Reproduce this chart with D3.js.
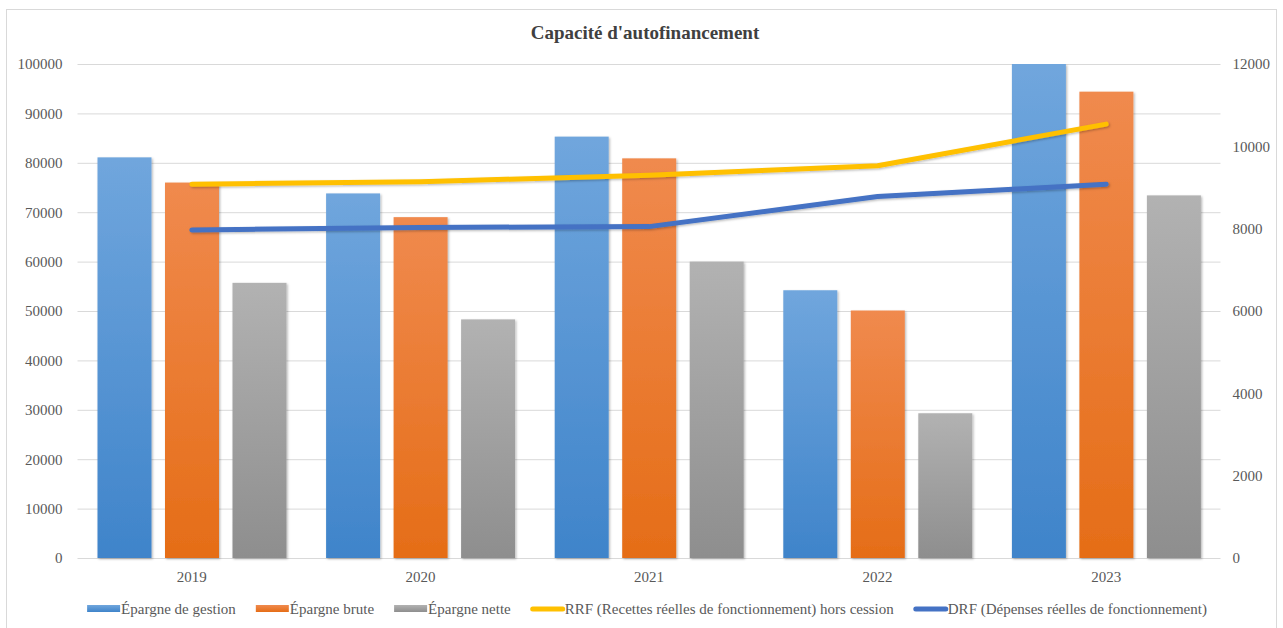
<!DOCTYPE html>
<html lang="fr">
    <head>
        <meta charset="utf-8">
        <title>Capacité d'autofinancement</title>
        <script src="https://cdn.jsdelivr.net/npm/d3@7"></script>
        <style>
            body { margin: 0; background: #fff; }
            svg { display: block; font-family: "Liberation Serif", "Times New Roman", serif; }
            .axis text { fill: #595959; font-size: 15px; font-family: "Liberation Serif", "Times New Roman", serif; }
            .axis .domain { display: none; }
            .grid line { stroke: #d9d9d9; stroke-width: 1; }
            .grid .domain { display: none; }
        </style>
    </head>
    <body>
        <div class="chart"></div>
        <script type="text/javascript">
            // values
            const years = ['2019', '2020', '2021', '2022', '2023'];
            const epargneGestion = [81100, 73800, 85300, 54200, 100000];
            const epargneBrute = [76000, 69000, 80900, 50100, 94400];
            const epargneNette = [55700, 48300, 60000, 29300, 73400];
            const rrf = [9080, 9140, 9300, 9530, 10540];
            const drf = [7970, 8030, 8050, 8780, 9080];
            const leftTicks = [0, 10000, 20000, 30000, 40000, 50000, 60000, 70000, 80000, 90000, 100000];
            const rightTicks = [0, 2000, 4000, 6000, 8000, 10000, 12000];

            const barSeries = [
                {name: 'Épargne de gestion', values: epargneGestion, top: '#70a6dd', bottom: '#3f84ca'},
                {name: 'Épargne brute', values: epargneBrute, top: '#f08a4e', bottom: '#e56d17'},
                {name: 'Épargne nette', values: epargneNette, top: '#b2b2b2', bottom: '#8e8e8e'}
            ];
            const lineSeries = [
                {name: 'RRF (Recettes réelles de fonctionnement) hors cession', values: rrf, color: '#ffc000'},
                {name: 'DRF (Dépenses réelles de fonctionnement)', values: drf, color: '#4472c4'}
            ];

            const width = 1283;
            const height = 628;
            const plot = {left: 77.5, right: 1220.5, top: 64, bottom: 558};

            const svg = d3.select('.chart')
                .append('svg')
                .attr('width', width)
                .attr('height', height);

            const defs = svg.append('defs');
            barSeries.forEach((s, i) => {
                const g = defs.append('linearGradient')
                    .attr('id', 'grad' + i)
                    .attr('x1', 0).attr('y1', 0)
                    .attr('x2', 0).attr('y2', 1);
                g.append('stop').attr('offset', '0%').attr('stop-color', s.top);
                g.append('stop').attr('offset', '100%').attr('stop-color', s.bottom);
            });
            const shadow = defs.append('filter')
                .attr('id', 'shadow')
                .attr('x', '-20%').attr('y', '-20%')
                .attr('width', '140%').attr('height', '140%');
            shadow.append('feDropShadow')
                .attr('dx', 1.2).attr('dy', 1.2)
                .attr('stdDeviation', 1.3)
                .attr('flood-color', '#000')
                .attr('flood-opacity', 0.28);
            defs.append('clipPath')
                .attr('id', 'plotclip')
                .append('rect')
                .attr('x', plot.left)
                .attr('y', plot.top)
                .attr('width', plot.right - plot.left)
                .attr('height', plot.bottom - plot.top + 4);

            // outer frame
            svg.append('rect')
                .attr('x', 6.5)
                .attr('y', 9.5)
                .attr('width', 1270)
                .attr('height', 640)
                .attr('fill', 'none')
                .attr('stroke', '#d9d9d9');

            svg.append('text')
                .attr('x', 645)
                .attr('y', 39)
                .attr('text-anchor', 'middle')
                .attr('font-size', '19px')
                .attr('font-weight', 'bold')
                .attr('fill', '#404040')
                .text("Capacité d'autofinancement");

            const x0 = d3.scaleBand()
                .domain(years)
                .range([plot.left, plot.right]);
            const x1 = d3.scaleBand()
                .domain(barSeries.map(s => s.name))
                .range([20, 209])
                .paddingInner(0.2);
            const yLeft = d3.scaleLinear()
                .domain([0, 100000])
                .range([plot.bottom, plot.top]);
            const yRight = d3.scaleLinear()
                .domain([0, 12000])
                .range([plot.bottom, plot.top]);

            svg.append('g')
                .attr('class', 'grid')
                .attr('transform', `translate(${plot.left},0)`)
                .call(d3.axisLeft(yLeft).tickValues(leftTicks).tickSize(-(plot.right - plot.left)).tickFormat(''));

            svg.append('g')
                .attr('class', 'axis')
                .attr('transform', `translate(${plot.left},0)`)
                .call(d3.axisLeft(yLeft).tickValues(leftTicks).tickSize(0).tickPadding(15).tickFormat(d3.format('d')));

            svg.append('g')
                .attr('class', 'axis')
                .attr('transform', `translate(${plot.right},0)`)
                .call(d3.axisRight(yRight).tickValues(rightTicks).tickSize(0).tickPadding(12).tickFormat(d3.format('d')));

            svg.append('g')
                .attr('class', 'axis')
                .attr('transform', `translate(0,${plot.bottom})`)
                .call(d3.axisBottom(x0).tickSize(0).tickPadding(13));

            const bars = svg.append('g').attr('clip-path', 'url(#plotclip)');
            barSeries.forEach((s, i) => {
                bars.selectAll('.bar' + i)
                    .data(s.values)
                    .enter()
                    .append('rect')
                    .attr('class', 'bar' + i)
                    .attr('x', (d, j) => x0(years[j]) + x1(s.name))
                    .attr('y', d => yLeft(d))
                    .attr('width', x1.bandwidth())
                    .attr('height', d => yLeft(0) - yLeft(d))
                    .attr('fill', 'url(#grad' + i + ')')
                    .attr('filter', 'url(#shadow)');
            });

            const line = d3.line()
                .x((d, j) => x0(years[j]) + x0.bandwidth() / 2)
                .y(d => yRight(d));
            lineSeries.forEach(s => {
                svg.append('path')
                    .datum(s.values)
                    .attr('d', line)
                    .attr('fill', 'none')
                    .attr('stroke', s.color)
                    .attr('stroke-width', 5)
                    .attr('stroke-linecap', 'round')
                    .attr('stroke-linejoin', 'round')
                    .attr('filter', 'url(#shadow)');
            });

            // legend
            const legendItems = barSeries.map((s, i) => ({name: s.name, fill: s.top, type: 'bar', i: i}))
                .concat(lineSeries.map(s => ({name: s.name, fill: s.color, type: 'line'})));
            const legend = svg.append('g');
            const gap = 20;
            let lx = 0;
            legendItems.forEach(item => {
                const g = legend.append('g').attr('transform', `translate(${lx},0)`);
                if (item.type === 'bar') {
                    g.append('rect')
                        .attr('x', 0)
                        .attr('y', -4)
                        .attr('width', 33)
                        .attr('height', 7)
                        .attr('fill', 'url(#grad' + item.i + ')');
                } else {
                    g.append('line')
                        .attr('x1', 2).attr('x2', 32)
                        .attr('y1', 0).attr('y2', 0)
                        .attr('stroke', item.fill)
                        .attr('stroke-width', 5)
                        .attr('stroke-linecap', 'round');
                }
                const t = g.append('text')
                    .attr('x', 34)
                    .attr('y', 5)
                    .attr('font-size', '15px')
                    .attr('fill', '#595959')
                    .text(item.name);
                lx += 34 + t.node().getComputedTextLength() + gap;
            });
            const legendWidth = lx - gap;
            legend.attr('transform', `translate(${647 - legendWidth / 2},609)`);
        </script>
    </body>
</html>
